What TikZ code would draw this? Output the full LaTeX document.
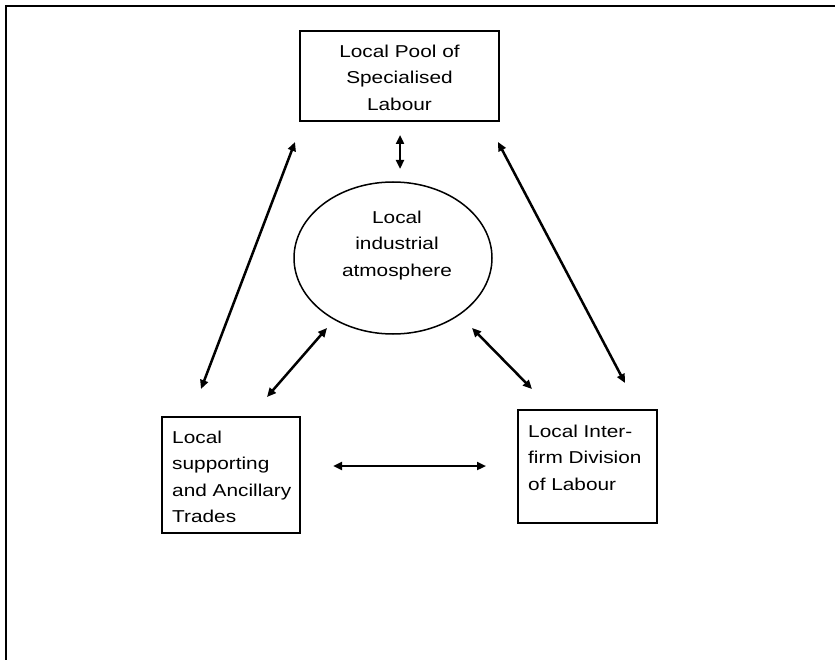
\documentclass[tikz,border=0pt]{standalone}
\usepackage{fontspec}
\setmainfont{Liberation Sans}[FakeStretch=1.21]
\usetikzlibrary{arrows.meta,shapes.geometric}
\begin{document}
\begin{tikzpicture}[x=1pt,y=-1pt,
  box/.style={draw, line width=1.7pt, inner sep=0pt},
  lbl/.style={inner sep=0pt, font=\fontsize{17.2}{26.5}\selectfont},
  link/.style={line width=2.5pt,
    {Triangle[length=9pt,width=8pt]}-{Triangle[length=9pt,width=8pt]}}]
\useasboundingbox (0,0) rectangle (835,660);

% page frame (open at right and bottom)
\draw[line width=2.8pt] (6,660) -- (6,6) -- (835,6);

% the four elements
\node[box, minimum width=199pt, minimum height=90pt] (pool) at (399.5,76) {};
\node[lbl, align=center, anchor=north] (poolText) at (399.5,44.6)
  {Local Pool of\\Specialised\\Labour};

\node[draw, ellipse, line width=1.5pt, inner sep=0pt,
      minimum width=198pt, minimum height=152pt] (atmos) at (393,258) {};
\node[lbl, align=center, anchor=north] (atmosText) at (397,210.6)
  {Local\\industrial\\atmosphere};

\node[box, minimum width=138pt, minimum height=116pt] (trades) at (231,475) {};
\node[lbl, align=left, anchor=north west] (tradesText) at (172,430.6)
  {Local\\supporting\\and Ancillary\\Trades};

\node[box, minimum width=139pt, minimum height=113pt] (division) at (587.5,466.5) {};
\node[lbl, align=left, anchor=north west] (divisionText) at (528,424.6)
  {Local Inter-\\firm Division\\of Labour};

% connector end points
\coordinate (poolSW) at (295,142);
\coordinate (poolS)  at (400,135);
\coordinate (poolSE) at (498,142);
\coordinate (atmosN) at (400,169);
\coordinate (atmosSW) at (327,328);
\coordinate (atmosSE) at (472,328);
\coordinate (tradesNW) at (201,389);
\coordinate (tradesNE) at (267,397);
\coordinate (tradesE) at (333,466);
\coordinate (divisionW) at (486,466);
\coordinate (divisionNW) at (532,389);
\coordinate (divisionNE) at (625,383);

% two-way links
\draw[link] (tradesNW) -- (poolSW);
\draw[link] (poolS) -- (atmosN);
\draw[link] (poolSE) -- (divisionNE);
\draw[link] (tradesNE) -- (atmosSW);
\draw[link] (atmosSE) -- (divisionNW);
\draw[link] (tradesE) -- (divisionW);
\end{tikzpicture}
\end{document}
